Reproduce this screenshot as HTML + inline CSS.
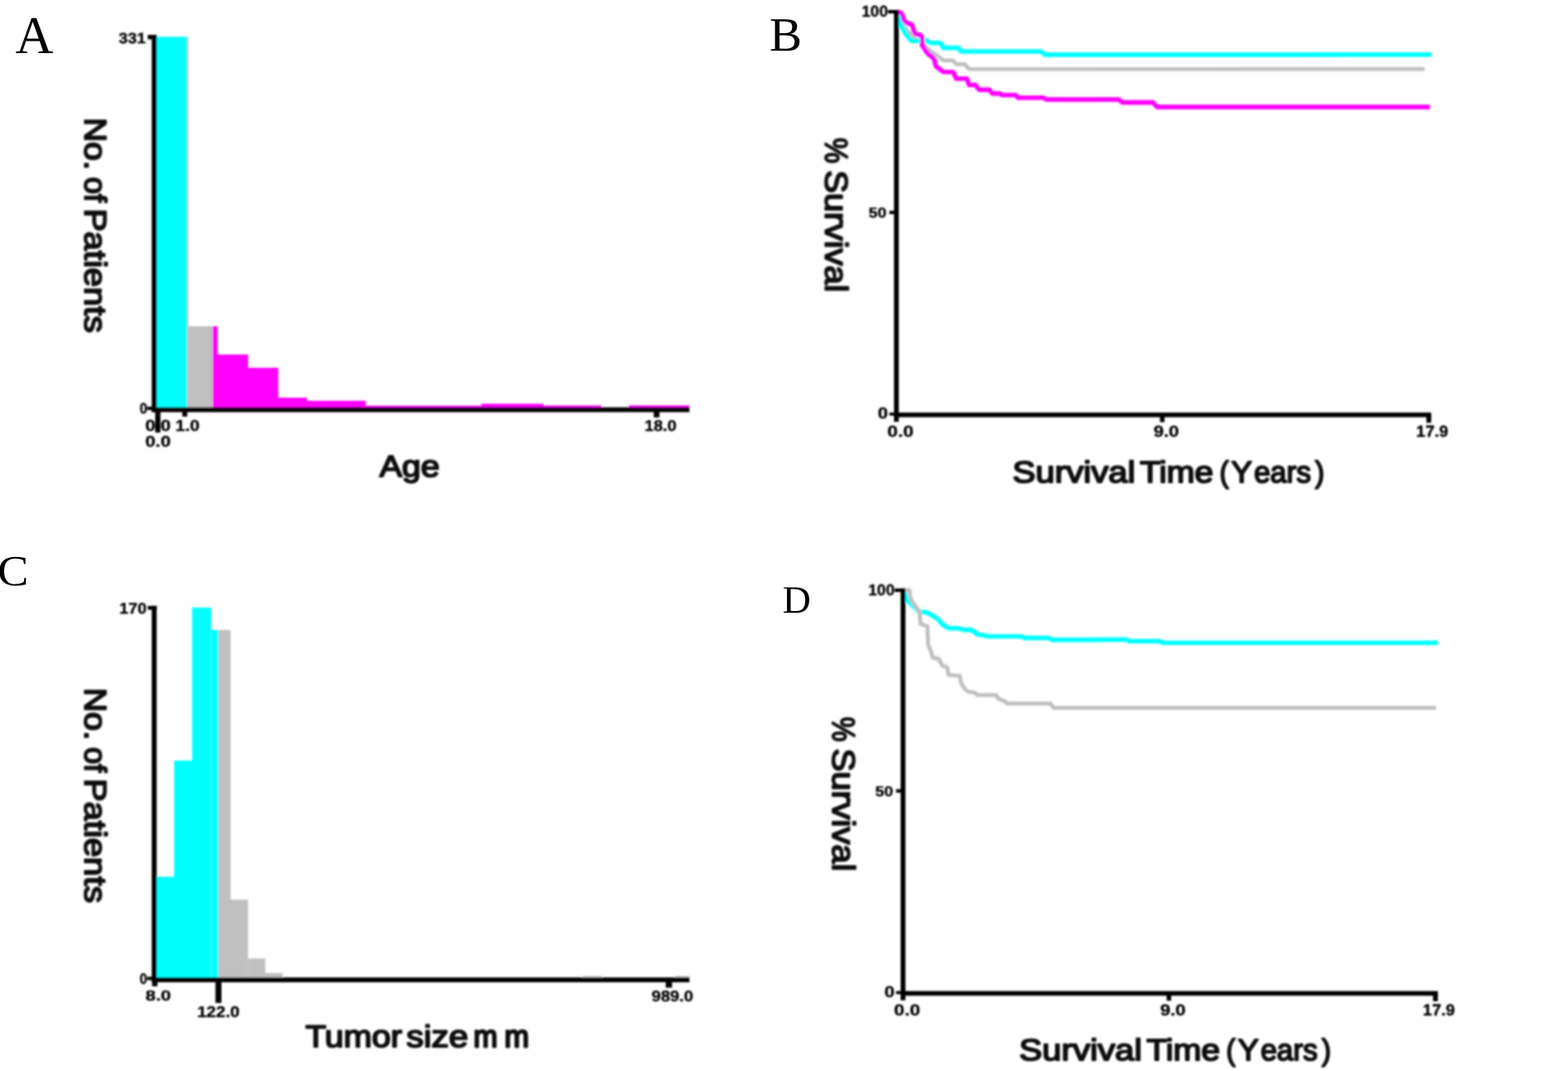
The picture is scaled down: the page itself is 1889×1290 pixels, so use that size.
<!DOCTYPE html>
<html lang="en">
<head>
<meta charset="utf-8">
<title>Figure panels A-D: patient distributions and survival curves</title>
<style>
html,body{margin:0;padding:0;background:#fff;}
body{width:1889px;height:1290px;overflow:hidden;}
svg{display:block;}
text{fill:#000;white-space:pre;text-rendering:geometricPrecision;}
.pl{font-family:"Liberation Serif","DejaVu Serif",serif;}
.tk{font-family:"Liberation Sans","DejaVu Sans",sans-serif;font-weight:bold;fill:#000;stroke:#000;stroke-width:0.35px;}
.ax{font-family:"Liberation Sans","DejaVu Sans",sans-serif;font-weight:normal;fill:#0a0a0a;stroke:#0a0a0a;stroke-width:1.9px;stroke-linejoin:round;}
</style>
</head>
<body>
<svg width="1889" height="1290" viewBox="0 0 1889 1290">
<rect x="0" y="0" width="1889" height="1290" fill="#ffffff"/>
<defs>
<filter id="soft" filterUnits="userSpaceOnUse" x="0" y="0" width="1889" height="1290"><feGaussianBlur stdDeviation="1.0"/></filter>
<filter id="soft2" filterUnits="userSpaceOnUse" x="-20" y="0" width="1909" height="1290"><feGaussianBlur stdDeviation="0.35"/></filter>
</defs>
<g id="panel-letters" filter="url(#soft2)">
<text class="pl" font-size="64.13"><tspan x="18.50" y="64.00" textLength="45.82" lengthAdjust="spacingAndGlyphs">A</tspan></text>
<text class="pl" font-size="57.77"><tspan x="927.06" y="61.00" textLength="39.14" lengthAdjust="spacingAndGlyphs">B</tspan></text>
<text class="pl" font-size="51.90"><tspan x="-2.94" y="705.00" textLength="37.41" lengthAdjust="spacingAndGlyphs">C</tspan></text>
<text class="pl" font-size="46.78"><tspan x="942.67" y="738.00" textLength="34.06" lengthAdjust="spacingAndGlyphs">D</tspan></text>
</g>
<g id="panelA" filter="url(#soft)">
<rect x="224.0" y="44.3" width="3.0" height="348.7" fill="#c0c0c0"/>
<rect x="188.0" y="44.3" width="37.3" height="446.7" fill="#00ffff"/>
<rect x="225.3" y="393.0" width="31.0" height="98.0" fill="#c0c0c0"/>
<rect x="256.0" y="393.0" width="6.2" height="98.0" fill="#ff00ff"/>
<rect x="262.0" y="427.0" width="37.0" height="64.0" fill="#ff00ff"/>
<rect x="299.0" y="443.0" width="36.3" height="48.0" fill="#ff00ff"/>
<rect x="335.0" y="479.0" width="35.0" height="12.0" fill="#ff00ff"/>
<rect x="370.0" y="482.7" width="70.6" height="8.3" fill="#ff00ff"/>
<rect x="440.0" y="488.6" width="140.5" height="2.4" fill="#ff00ff"/>
<rect x="580.0" y="486.3" width="74.3" height="4.7" fill="#ff00ff"/>
<rect x="654.0" y="488.4" width="70.3" height="2.6" fill="#ff00ff"/>
<rect x="757.8" y="488.3" width="72.8" height="2.7" fill="#ff00ff"/>
<rect x="182.8" y="42.0" width="5.9" height="454.4" fill="#000000"/>
<rect x="182.8" y="490.6" width="647.8" height="5.8" fill="#000000"/>
<rect x="178.0" y="42.0" width="10.7" height="5.4" fill="#000000"/>
<rect x="177.2" y="489.8" width="6.8" height="4.0" fill="#000000"/>
<rect x="187.0" y="495.0" width="6.3" height="26.0" fill="#000000"/>
<rect x="219.6" y="495.0" width="6.0" height="6.8" fill="#000000"/>
<rect x="787.6" y="495.0" width="6.8" height="7.8" fill="#000000"/>
<text class="tk" font-size="17.76"><tspan x="143.08" y="52.00" textLength="32.70" lengthAdjust="spacingAndGlyphs">331</tspan></text>
<text class="tk" font-size="18.14"><tspan x="168.17" y="498.00" textLength="9.23" lengthAdjust="spacingAndGlyphs">0</tspan></text>
<text class="tk" font-size="19.14"><tspan x="175.09" y="519.00" textLength="30.70" lengthAdjust="spacingAndGlyphs">0.0</tspan></text>
<text class="tk" font-size="18.85"><tspan x="211.34" y="519.00" textLength="29.19" lengthAdjust="spacingAndGlyphs">1.0</tspan></text>
<text class="tk" font-size="18.65"><tspan x="175.07" y="538.00" textLength="30.60" lengthAdjust="spacingAndGlyphs">0.0</tspan></text>
<text class="tk" font-size="18.54"><tspan x="776.58" y="519.00" textLength="38.57" lengthAdjust="spacingAndGlyphs">18.0</tspan></text>
<text class="ax" font-size="36.45"><tspan x="457.21" y="574.00" textLength="72.45" lengthAdjust="spacingAndGlyphs">Age</tspan></text>
<text class="ax" font-size="37.18" transform="translate(102.13 0) rotate(90)"><tspan x="141.71" y="0" textLength="63.15" lengthAdjust="spacingAndGlyphs">No.</tspan> <tspan x="213.13" y="0" textLength="30.59" lengthAdjust="spacingAndGlyphs">of</tspan> <tspan x="251.18" y="0" textLength="149.75" lengthAdjust="spacingAndGlyphs">Patients</tspan></text>
</g>
<g id="panelB" filter="url(#soft)">
<polyline points="1081.1,13.4 1083.7,21.7 1085.6,28.1 1093.3,37.1 1099.7,44.8 1109.9,51.2 1120.1,60.8 1129.1,67.2 1136.8,72.9 1148.3,72.9 1152.1,77.4 1162.3,77.4 1167.5,83.2 1716.3,83.1" fill="none" stroke="#c0c0c0" stroke-width="4.6" stroke-linejoin="round" stroke-linecap="butt"/>
<polyline points="1081.1,13.4 1083.7,25.6 1087.5,34.5 1092.0,42.2 1098.4,49.3 1111.2,49.3 1115.0,48.0 1121.4,51.8 1132.9,51.8 1136.8,57.6 1154.7,57.6 1157.9,62.0 1254.4,62.0 1258.9,65.9 1724.7,65.8" fill="none" stroke="#00ffff" stroke-width="5.6" stroke-linejoin="round" stroke-linecap="butt"/>
<polyline points="1081.0,13.6 1086.1,16.1 1088.1,20.9 1088.8,24.4 1093.0,27.9 1097.9,29.3 1100.0,32.8 1100.7,37.7 1103.5,41.2 1108.4,41.9 1111.2,45.4 1111.2,50.2 1110.7,54.4 1113.3,57.9 1115.4,61.4 1118.8,65.6 1123.0,68.4 1125.8,71.9 1126.5,76.1 1127.9,80.3 1132.8,83.7 1136.3,86.5 1148.3,86.7 1152.1,94.7 1164.9,94.7 1167.5,102.3 1175.1,102.3 1179.6,108.1 1191.8,108.1 1195.6,112.6 1204.6,112.6 1207.1,114.5 1223.7,114.5 1226.3,117.7 1257.0,117.7 1260.8,119.9 1348.0,119.9 1352.0,123.4 1389.0,123.4 1394.0,128.9 1722.7,128.9" fill="none" stroke="#ff00ff" stroke-width="5.6" stroke-linejoin="round" stroke-linecap="butt"/>
<rect x="1077.0" y="12.0" width="5.8" height="496.0" fill="#000000"/>
<rect x="1077.0" y="496.9" width="647.2" height="5.6" fill="#000000"/>
<rect x="1069.8" y="12.0" width="13.0" height="4.2" fill="#000000"/>
<rect x="1071.5" y="253.8" width="6.5" height="4.1" fill="#000000"/>
<rect x="1071.5" y="496.9" width="6.5" height="3.7" fill="#000000"/>
<rect x="1397.5" y="500.0" width="5.4" height="8.5" fill="#000000"/>
<rect x="1718.4" y="500.0" width="5.8" height="9.2" fill="#000000"/>
<text class="tk" font-size="19.05"><tspan x="1038.04" y="20.00" textLength="31.77" lengthAdjust="spacingAndGlyphs">100</tspan></text>
<text class="tk" font-size="17.35"><tspan x="1046.49" y="262.00" textLength="21.46" lengthAdjust="spacingAndGlyphs">50</tspan></text>
<text class="tk" font-size="19.16"><tspan x="1057.50" y="504.00" textLength="12.27" lengthAdjust="spacingAndGlyphs">0</tspan></text>
<text class="tk" font-size="19.16"><tspan x="1069.05" y="526.00" textLength="31.46" lengthAdjust="spacingAndGlyphs">0.0</tspan></text>
<text class="tk" font-size="19.07"><tspan x="1389.65" y="526.00" textLength="30.80" lengthAdjust="spacingAndGlyphs">9.0</tspan></text>
<text class="tk" font-size="19.19"><tspan x="1706.12" y="526.00" textLength="38.70" lengthAdjust="spacingAndGlyphs">17.9</tspan></text>
<text class="ax" font-size="36.35"><tspan x="1219.75" y="581.00" textLength="147.96" lengthAdjust="spacingAndGlyphs">Survival</tspan> <tspan x="1373.21" y="581.00" textLength="88.47" lengthAdjust="spacingAndGlyphs">Time</tspan> <tspan x="1469.33" y="581.00" textLength="11.11" lengthAdjust="spacingAndGlyphs">(</tspan><tspan x="1483.23" y="581.00" textLength="25.19" lengthAdjust="spacingAndGlyphs">Y</tspan><tspan x="1510.70" y="581.00" textLength="68.75" lengthAdjust="spacingAndGlyphs">ears</tspan><tspan x="1584.33" y="581.00" textLength="11.28" lengthAdjust="spacingAndGlyphs">)</tspan></text>
<text class="ax" font-size="38.43" transform="translate(994.24 0) rotate(90)"><tspan x="166.07" y="0" textLength="30.83" lengthAdjust="spacingAndGlyphs">%</tspan> <tspan x="205.02" y="0" textLength="147.03" lengthAdjust="spacingAndGlyphs">Survival</tspan></text>
</g>
<g id="panelC" filter="url(#soft)">
<rect x="188.0" y="1056.0" width="22.0" height="122.0" fill="#00ffff"/>
<rect x="209.8" y="916.0" width="22.2" height="262.0" fill="#00ffff"/>
<rect x="231.4" y="731.8" width="23.2" height="446.2" fill="#00ffff"/>
<rect x="254.6" y="758.8" width="8.4" height="419.2" fill="#00ffff"/>
<rect x="263.0" y="758.8" width="14.8" height="419.2" fill="#c0c0c0"/>
<rect x="277.0" y="1083.6" width="21.8" height="94.4" fill="#c0c0c0"/>
<rect x="298.6" y="1154.5" width="20.9" height="23.5" fill="#c0c0c0"/>
<rect x="319.3" y="1172.0" width="21.2" height="6.0" fill="#c0c0c0"/>
<rect x="701.7" y="1175.8" width="23.7" height="2.2" fill="#c0c0c0"/>
<rect x="813.0" y="1175.6" width="17.8" height="2.4" fill="#c0c0c0"/>
<rect x="182.8" y="729.8" width="5.9" height="453.3" fill="#000000"/>
<rect x="182.8" y="1177.3" width="647.8" height="5.8" fill="#000000"/>
<rect x="178.0" y="729.8" width="10.7" height="4.6" fill="#000000"/>
<rect x="177.2" y="1176.5" width="6.8" height="4.0" fill="#000000"/>
<rect x="259.6" y="1181.7" width="7.2" height="26.3" fill="#000000"/>
<rect x="802.0" y="1181.7" width="7.6" height="7.9" fill="#000000"/>
<rect x="183.3" y="1183.0" width="6.4" height="5.0" fill="#000000"/>
<text class="tk" font-size="18.49"><tspan x="143.89" y="739.00" textLength="32.68" lengthAdjust="spacingAndGlyphs">170</tspan></text>
<text class="tk" font-size="18.15"><tspan x="168.32" y="1185.00" textLength="9.03" lengthAdjust="spacingAndGlyphs">0</tspan></text>
<text class="tk" font-size="17.37"><tspan x="175.39" y="1205.00" textLength="30.65" lengthAdjust="spacingAndGlyphs">8.0</tspan></text>
<text class="tk" font-size="18.71"><tspan x="237.41" y="1225.00" textLength="51.35" lengthAdjust="spacingAndGlyphs">122.0</tspan></text>
<text class="tk" font-size="18.34"><tspan x="785.09" y="1206.00" textLength="49.95" lengthAdjust="spacingAndGlyphs">989.0</tspan></text>
<text class="ax" font-size="37.07"><tspan x="367.94" y="1261.00" textLength="116.41" lengthAdjust="spacingAndGlyphs">Tumor</tspan> <tspan x="489.41" y="1261.00" textLength="74.63" lengthAdjust="spacingAndGlyphs">size</tspan> <tspan x="570.61" y="1261.00" textLength="28.85" lengthAdjust="spacingAndGlyphs" stroke-width="2.5">m</tspan><tspan x="607.77" y="1261.00" textLength="29.55" lengthAdjust="spacingAndGlyphs" stroke-width="2.5">m</tspan></text>
<text class="ax" font-size="37.18" transform="translate(102.13 0) rotate(90)"><tspan x="828.62" y="0" textLength="62.89" lengthAdjust="spacingAndGlyphs">No.</tspan> <tspan x="899.94" y="0" textLength="30.41" lengthAdjust="spacingAndGlyphs">of</tspan> <tspan x="937.71" y="0" textLength="150.05" lengthAdjust="spacingAndGlyphs">Patients</tspan></text>
</g>
<g id="panelD" filter="url(#soft)">
<polyline points="1088.8,710.9 1090.9,717.9 1093.7,723.5 1097.9,727.7 1104.9,734.6 1110.5,737.4 1116.0,737.4 1123.0,740.9 1130.0,745.8 1135.6,752.1 1142.6,756.7 1155.1,756.7 1160.7,758.6 1169.1,758.6 1173.3,760.5 1177.4,764.0 1185.8,765.3 1190.0,766.5 1230.5,766.5 1234.6,768.4 1263.9,768.4 1267.4,770.6 1310.0,770.6 1356.5,770.3 1360.5,772.2 1397.0,772.2 1401.0,774.2 1732.5,774.2" fill="none" stroke="#00ffff" stroke-width="5.6" stroke-linejoin="round" stroke-linecap="butt"/>
<polyline points="1088.8,710.9 1095.8,710.9 1096.5,719.3 1100.0,726.3 1104.2,731.9 1107.7,737.4 1109.1,751.4 1117.4,754.2 1118.1,776.5 1121.6,784.9 1123.7,791.9 1131.4,793.9 1134.9,801.6 1141.2,803.7 1142.6,812.8 1156.5,814.2 1157.9,822.6 1162.1,829.5 1166.3,833.0 1174.6,834.4 1177.4,837.2 1199.8,837.2 1202.6,841.4 1210.9,844.9 1213.7,847.4 1265.3,847.4 1269.5,852.6 1310.0,852.6 1730.0,852.7" fill="none" stroke="#c0c0c0" stroke-width="4.8" stroke-linejoin="round" stroke-linecap="butt"/>
<rect x="1085.0" y="708.8" width="5.8" height="496.0" fill="#000000"/>
<rect x="1085.0" y="1193.7" width="647.2" height="5.6" fill="#000000"/>
<rect x="1077.8" y="708.8" width="13.0" height="4.2" fill="#000000"/>
<rect x="1079.5" y="950.6" width="6.5" height="4.1" fill="#000000"/>
<rect x="1079.5" y="1193.7" width="6.5" height="3.7" fill="#000000"/>
<rect x="1405.5" y="1196.8" width="5.4" height="8.5" fill="#000000"/>
<rect x="1726.4" y="1196.8" width="5.8" height="9.2" fill="#000000"/>
<text class="tk" font-size="19.05"><tspan x="1046.04" y="717.00" textLength="31.77" lengthAdjust="spacingAndGlyphs">100</tspan></text>
<text class="tk" font-size="17.35"><tspan x="1054.49" y="959.00" textLength="21.46" lengthAdjust="spacingAndGlyphs">50</tspan></text>
<text class="tk" font-size="19.16"><tspan x="1065.50" y="1201.00" textLength="12.27" lengthAdjust="spacingAndGlyphs">0</tspan></text>
<text class="tk" font-size="19.16"><tspan x="1077.05" y="1223.00" textLength="31.46" lengthAdjust="spacingAndGlyphs">0.0</tspan></text>
<text class="tk" font-size="19.07"><tspan x="1397.65" y="1223.00" textLength="30.80" lengthAdjust="spacingAndGlyphs">9.0</tspan></text>
<text class="tk" font-size="19.19"><tspan x="1714.12" y="1223.00" textLength="38.70" lengthAdjust="spacingAndGlyphs">17.9</tspan></text>
<text class="ax" font-size="36.35"><tspan x="1227.75" y="1277.00" textLength="147.96" lengthAdjust="spacingAndGlyphs">Survival</tspan> <tspan x="1381.21" y="1277.00" textLength="88.47" lengthAdjust="spacingAndGlyphs">Time</tspan> <tspan x="1477.33" y="1277.00" textLength="11.11" lengthAdjust="spacingAndGlyphs">(</tspan><tspan x="1491.23" y="1277.00" textLength="25.19" lengthAdjust="spacingAndGlyphs">Y</tspan><tspan x="1518.70" y="1277.00" textLength="68.75" lengthAdjust="spacingAndGlyphs">ears</tspan><tspan x="1592.33" y="1277.00" textLength="11.28" lengthAdjust="spacingAndGlyphs">)</tspan></text>
<text class="ax" font-size="38.45" transform="translate(1002.98 0) rotate(90)"><tspan x="863.51" y="0" textLength="29.90" lengthAdjust="spacingAndGlyphs">%</tspan> <tspan x="901.42" y="0" textLength="148.04" lengthAdjust="spacingAndGlyphs">Survival</tspan></text>
</g>
</svg>
</body>
</html>
